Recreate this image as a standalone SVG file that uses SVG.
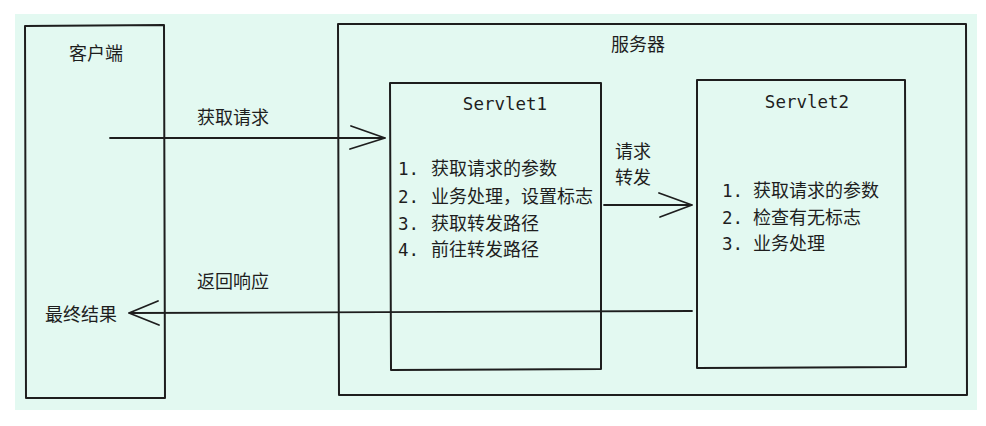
<svg xmlns="http://www.w3.org/2000/svg" width="986" height="426" viewBox="0 0 986 426">
<style>
.box{fill:none;stroke:#1e1e1e;stroke-width:2;stroke-linejoin:round}
.ln{fill:none;stroke:#1e1e1e;stroke-width:1.8;stroke-linecap:round;stroke-linejoin:round}
.t{font-family:"Noto Sans CJK SC","Noto Sans",sans-serif;font-size:18px;fill:#1e1e1e}
.m{font-family:"DejaVu Sans Mono","Liberation Mono",monospace;font-size:17.5px;fill:#1e1e1e}
</style>
<rect x="0" y="0" width="986" height="426" fill="#ffffff"/>
<rect x="15" y="14" width="962" height="396" fill="#e3f9f1"/>
<g id="client">
<path class="box" d="M25,26 L164,25 L165,398 L26,398 Z"/>
<text class="t" x="96" y="60" text-anchor="middle">客户端</text>
<text class="t" x="45" y="321">最终结果</text>
</g>
<g id="server">
<path class="box" d="M338,24 L966,24 L967,395 L339,395 Z"/>
<text class="t" x="638" y="51" text-anchor="middle">服务器</text>
</g>
<g id="servlet1">
<path class="box" d="M390,83 L601,83 L601,369 L391,370 Z"/>
<text class="m" x="505" y="110" text-anchor="middle">Servlet1</text>
<text class="m" x="398" y="175">1.</text><text class="t" x="431" y="175">获取请求的参数</text>
<text class="m" x="398" y="203">2.</text><text class="t" x="431" y="203">业务处理，设置标志</text>
<text class="m" x="398" y="230">3.</text><text class="t" x="431" y="230">获取转发路径</text>
<text class="m" x="398" y="256">4.</text><text class="t" x="431" y="256">前往转发路径</text>
</g>
<g id="servlet2">
<path class="box" d="M697,80 L905,80 L906,367 L697,368 Z"/>
<text class="m" x="807" y="108" text-anchor="middle">Servlet2</text>
<text class="m" x="722" y="197">1.</text><text class="t" x="753" y="197">获取请求的参数</text>
<text class="m" x="722" y="224">2.</text><text class="t" x="753" y="224">检查有无标志</text>
<text class="m" x="722" y="250">3.</text><text class="t" x="753" y="250">业务处理</text>
</g>
<g id="connectors">
<path class="ln" d="M110,138 L385,138 M351,126 L385,138 L350,149"/>
<text class="t" x="233" y="124" text-anchor="middle">获取请求</text>
<path class="ln" d="M604,205 L692,205 M659,193 L692,205 L660,217"/>
<text class="t" x="615" y="158">请求</text>
<text class="t" x="615" y="184">转发</text>
<path class="ln" d="M692,311 L129,313 M158,301 L129,313 L159,325"/>
<text class="t" x="233" y="288" text-anchor="middle">返回响应</text>
</g>
</svg>
